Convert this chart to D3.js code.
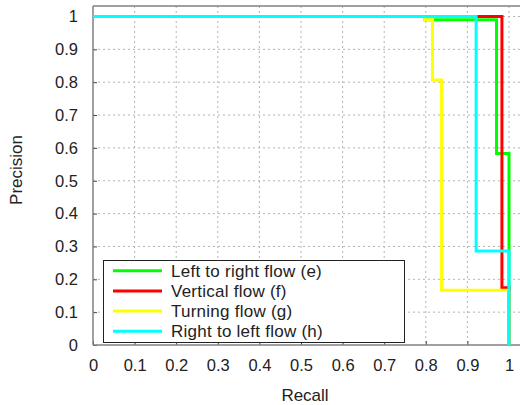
<!DOCTYPE html>
<html><head><meta charset="utf-8">
<script src="https://cdn.jsdelivr.net/npm/d3@7"></script>
<style>body{margin:0;background:#fff}svg{display:block}text{font-family:"Liberation Sans",Arial,sans-serif;fill:#222}</style>
</head><body><svg id="c" width="520" height="405"></svg>
<script>
const xTicks = [0,0.1,0.2,0.3,0.4,0.5,0.6,0.7,0.8,0.9,1];
const yTicks = [0,0.1,0.2,0.3,0.4,0.5,0.6,0.7,0.8,0.9,1];
const seriesNames = ["Left to right flow (e)","Vertical flow (f)","Turning flow (g)","Right to left flow (h)"];
const seriesColors = ["#00ff00","#ff0000","#ffff00","#00ffff"];
const greenRecall = [0, 0.798, 0.970, 1.0];
const greenPrecision = [1, 0.99, 0.583, 0];
const redRecall = [0, 0.983, 1.0];
const redPrecision = [1, 0.174, 0];
const yellowRecall = [0, 0.798, 0.816, 0.838, 1.0];
const yellowPrecision = [1, 0.99, 0.807, 0.167, 0];
const cyanRecall = [0, 0.921, 1.0];
const cyanPrecision = [1, 0.286, 0];
const series = [[greenRecall,greenPrecision],[redRecall,redPrecision],[yellowRecall,yellowPrecision],[cyanRecall,cyanPrecision]];

const svg = d3.select("#c");
const x0 = 93, x1 = 509, y0 = 345, y1 = 16.5;
const x = d3.scaleLinear().domain([0,1]).range([x0,x1]);
const y = d3.scaleLinear().domain([0,1]).range([y0,y1]);
const frameTop = 6, frameRight = 522;

// grid
const g = svg.append("g");
g.selectAll(".gx").data(xTicks.slice(1)).enter().append("line")
  .attr("x1",d=>x(d)).attr("x2",d=>x(d)).attr("y1",frameTop).attr("y2",y0)
  .attr("stroke","#b4b4b4").attr("stroke-dasharray","2,3");
g.selectAll(".gy").data(yTicks.slice(1)).enter().append("line")
  .attr("x1",x0).attr("x2",frameRight).attr("y1",d=>y(d)).attr("y2",d=>y(d))
  .attr("stroke","#b4b4b4").attr("stroke-dasharray","2,3");

// frame
svg.append("line").attr("x1",x0).attr("x2",frameRight).attr("y1",frameTop).attr("y2",frameTop).attr("stroke","#808080").attr("stroke-width",1.5);

// axes
const xa = svg.append("g").attr("transform",`translate(0,${y0})`)
  .call(d3.axisBottom(x).tickValues(xTicks).tickSize(-4).tickFormat(d3.format("")).tickPadding(14));
const ya = svg.append("g").attr("transform",`translate(${x0},0)`)
  .call(d3.axisLeft(y).tickValues(yTicks).tickSize(-4).tickFormat(d3.format("")).tickPadding(15));
[xa,ya].forEach(a=>{
  a.selectAll("line").attr("stroke","#444");
  a.selectAll("text").style("font-size","16.5px").attr("fill","#222");
  a.select(".domain").remove();
});
svg.append("line").attr("x1",x0).attr("x2",frameRight).attr("y1",y0).attr("y2",y0).attr("stroke","#808080").attr("stroke-width",1.5);
svg.append("line").attr("x1",x0).attr("x2",x0).attr("y1",frameTop).attr("y2",y0).attr("stroke","#808080").attr("stroke-width",1.5);

// curves
const line = d3.line().x(d=>x(d[0])).y(d=>y(d[1])).curve(d3.curveStepAfter);
series.forEach((s,i)=>{
  const pts = s[0].map((r,j)=>[r,s[1][j]]);
  svg.append("path").attr("d",line(pts)).attr("fill","none")
    .attr("stroke",seriesColors[i]).attr("stroke-width",3);
});

// legend
const lg = svg.append("g");
lg.append("rect").attr("x",103.5).attr("y",260.5).attr("width",301).attr("height",82)
  .attr("fill","#fff").attr("stroke","#222").attr("stroke-width",1);
seriesNames.forEach((n,i)=>{
  const yy = 270.7 + i*20.2;
  lg.append("line").attr("x1",113).attr("x2",162).attr("y1",yy).attr("y2",yy)
    .attr("stroke",seriesColors[i]).attr("stroke-width",3);
  lg.append("text").attr("x",171).attr("y",yy+6).style("font-size","17px").style("letter-spacing","0.25px").text(n);
});

// axis titles
svg.append("text").attr("x",305).attr("y",401).attr("text-anchor","middle").style("font-size","17px").text("Recall");
svg.append("text").attr("transform","translate(22,170) rotate(-90)").attr("text-anchor","middle").style("font-size","17px").text("Precision");
</script></body></html>
